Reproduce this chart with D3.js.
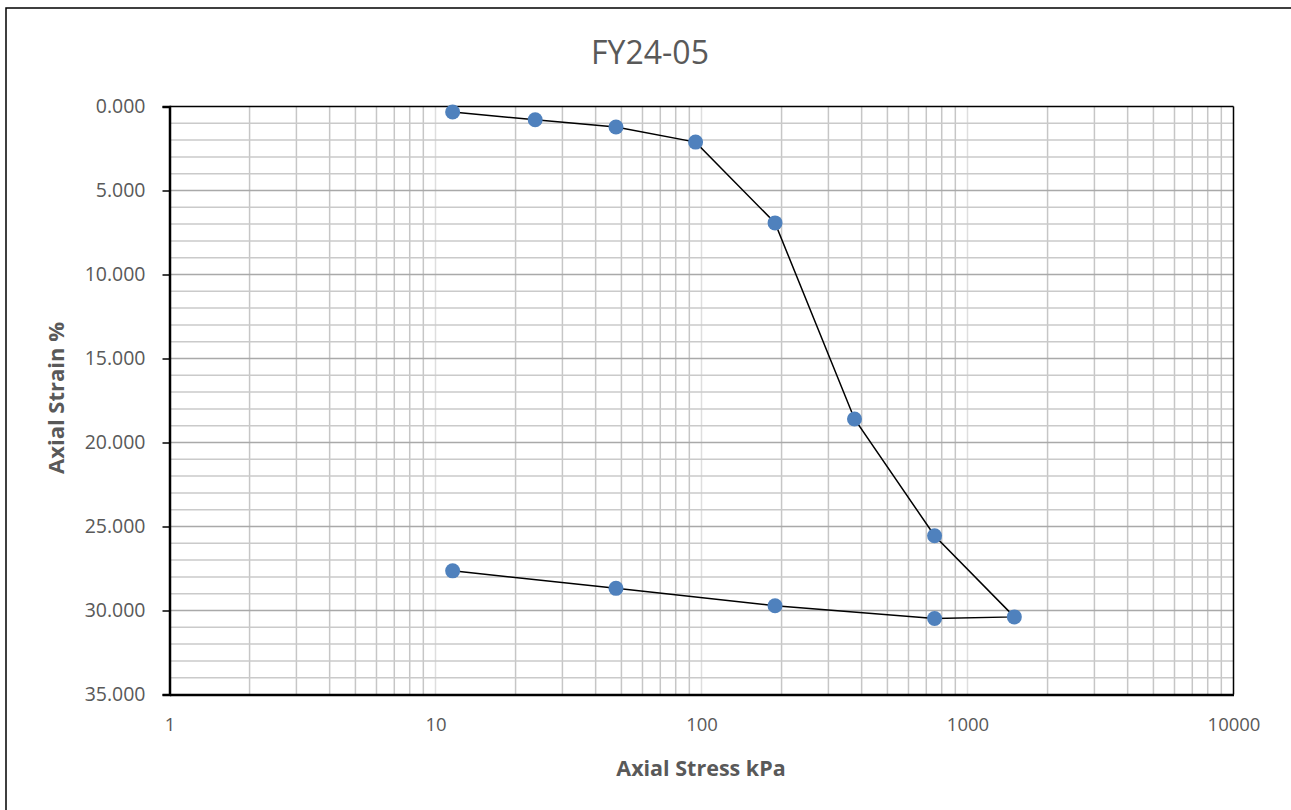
<!DOCTYPE html>
<html>
<head>
<meta charset="utf-8">
<script src="https://cdn.jsdelivr.net/npm/d3@7"></script>
<style>
  html, body { margin: 0; padding: 0; background: #fff; }
  svg { display: block; }
  text { font-family: "Open Sans", "Liberation Sans", sans-serif; fill: #595959; }
</style>
</head>
<body>
<svg id="chart" width="1291" height="810"></svg>
<script>
// Data
const title = "FY24-05";
const xTitle = "Axial Stress kPa";
const yTitle = "Axial Strain %";
const stress = [11.6, 23.7, 47.7, 95, 189, 376, 752, 1500, 752, 189, 47.7, 11.6];
const strain = [0.33, 0.79, 1.22, 2.12, 6.93, 18.6, 25.55, 30.38, 30.48, 29.72, 28.68, 27.64];
const xTickLabels = [1, 10, 100, 1000, 10000];
const yTickLabels = [0, 5, 10, 15, 20, 25, 30, 35];
const xDomain = [1, 10000];
const yDomain = [0, 35];

const svg = d3.select("#chart");
const W = 1291, H = 810;
const m = { left: 169.5, right: 1233.5, top: 106.5, bottom: 694.5 };

// Outer chart border
svg.append("rect").attr("x", 6).attr("y", 8).attr("width", W).attr("height", H)
  .attr("fill", "#fff").attr("stroke", "#000").attr("stroke-width", 1.5);

const x = d3.scaleLog().domain(xDomain).range([m.left, m.right]);
const y = d3.scaleLinear().domain(yDomain).range([m.top, m.bottom]);

const g = svg.append("g");

// Minor vertical gridlines (2..9 of each decade)
const minorX = [];
const majorX = [];
for (let d = 1; d < 10000; d *= 10) {
  for (let k = 2; k <= 9; k++) minorX.push(d * k);
  if (d > 1) majorX.push(d);
}
g.selectAll(".vminor").data(minorX).join("line")
  .attr("x1", d => x(d)).attr("x2", d => x(d))
  .attr("y1", m.top).attr("y2", m.bottom)
  .attr("stroke", "#c6c6c6").attr("stroke-width", 1.5);
g.selectAll(".vmajor").data(majorX).join("line")
  .attr("x1", d => x(d)).attr("x2", d => x(d))
  .attr("y1", m.top).attr("y2", m.bottom)
  .attr("stroke", "#dedede").attr("stroke-width", 1.5);

// Horizontal gridlines
const minorY = d3.range(1, 35).filter(v => v % 5 !== 0);
g.selectAll(".hminor").data(minorY).join("line")
  .attr("x1", m.left).attr("x2", m.right)
  .attr("y1", d => y(d)).attr("y2", d => y(d))
  .attr("stroke", "#cacaca").attr("stroke-width", 1.5);
g.selectAll(".hmajor").data(yTickLabels.filter(v => v > 0 && v < 35)).join("line")
  .attr("x1", m.left).attr("x2", m.right)
  .attr("y1", d => y(d)).attr("y2", d => y(d))
  .attr("stroke", "#a9a9a9").attr("stroke-width", 1.5);

// Plot border: top and right thin black
g.append("line").attr("x1", m.left).attr("x2", m.right).attr("y1", m.top).attr("y2", m.top)
  .attr("stroke", "#000").attr("stroke-width", 1.5);
g.append("line").attr("x1", m.right).attr("x2", m.right).attr("y1", m.top).attr("y2", m.bottom)
  .attr("stroke", "#000").attr("stroke-width", 1.5);

// Y axis
const yAxis = d3.axisLeft(y).tickValues(yTickLabels).tickSize(7).tickPadding(17)
  .tickFormat(d3.format(".3f"));
const ya = svg.append("g").attr("transform", `translate(${m.left},0)`).call(yAxis);
ya.select(".domain").attr("stroke", "#000").attr("stroke-width", 2.5);
ya.selectAll(".tick line").attr("stroke", "#000").attr("stroke-width", 1.5);
ya.selectAll(".tick text").attr("font-size", "19.5px").attr("fill", "#595959")
  .attr("font-family", "'Open Sans', sans-serif");

// X axis
const xAxis = d3.axisBottom(x).tickValues(xTickLabels).tickSize(0).tickPadding(23)
  .tickFormat(d3.format("d"));
const xa = svg.append("g").attr("transform", `translate(0,${m.bottom})`).call(xAxis);
xa.select(".domain").attr("stroke", "#000").attr("stroke-width", 2.5);
xa.selectAll(".tick text").attr("font-size", "18.5px").attr("fill", "#595959")
  .attr("font-family", "'Open Sans', sans-serif");

// Line and points
const pts = stress.map((s, i) => [s, strain[i]]);
const line = d3.line().x(d => x(d[0])).y(d => y(d[1]));
svg.append("path").datum(pts).attr("d", line)
  .attr("fill", "none").attr("stroke", "#000").attr("stroke-width", 1.5);
svg.selectAll(".pt").data(pts).join("circle")
  .attr("cx", d => x(d[0])).attr("cy", d => y(d[1])).attr("r", 7.5)
  .attr("fill", "#4f81bd");

// Titles
svg.append("text").attr("x", 650).attr("y", 64).attr("text-anchor", "middle")
  .attr("font-size", "32px").text(title);
svg.append("text").attr("x", 701).attr("y", 776).attr("text-anchor", "middle")
  .attr("font-size", "21.5px").attr("font-weight", "bold").text(xTitle);
svg.append("text").attr("transform", "translate(64,398) rotate(-90)")
  .attr("text-anchor", "middle").attr("font-size", "22px").attr("font-weight", "bold")
  .text(yTitle);
</script>
</body>
</html>
